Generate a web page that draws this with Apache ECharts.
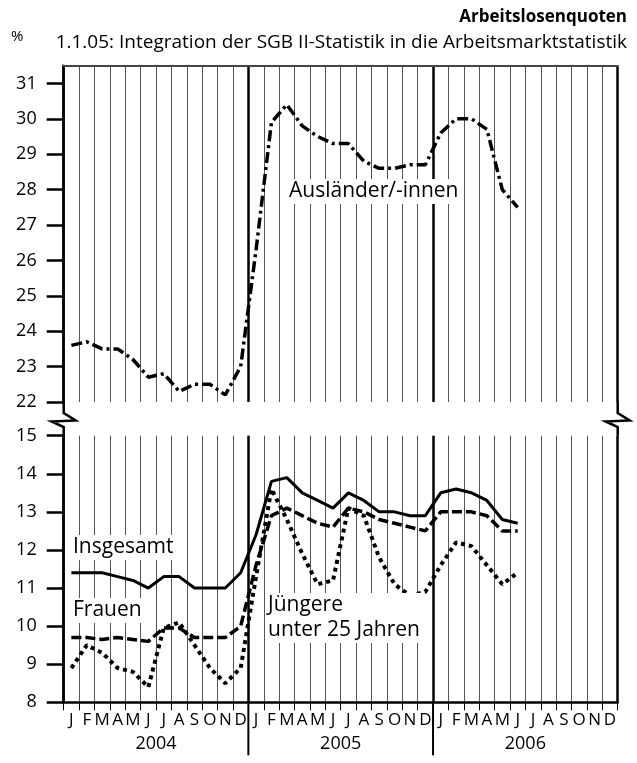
<!DOCTYPE html>
<html><head><meta charset="utf-8">
<script src="https://cdn.jsdelivr.net/npm/echarts@6/dist/echarts.min.js"></script>
<style>html,body{margin:0;padding:0;background:#fff}#c{width:637px;height:763px}</style>
</head><body><div id="c"></div>
<script>
const months = ['J','F','M','A','M','J','J','A','S','O','N','D','J','F','M','A','M','J','J','A','S','O','N','D','J','F','M','A','M','J','J','A','S','O','N','D'];
const years = ['2004','2005','2006'];
const upperTicks = [22,23,24,25,26,27,28,29,30,31];
const lowerTicks = [8,9,10,11,12,13,14,15];
const auslaender = [23.6,23.7,23.5,23.5,23.2,22.7,22.8,22.3,22.5,22.5,22.2,23.0,
  26.3,29.9,30.4,29.8,29.5,29.3,29.3,28.8,28.6,28.6,28.7,28.7,
  29.6,30.0,30.0,29.7,28.0,27.5];
const insgesamt = [11.4,11.4,11.4,11.3,11.2,11.0,11.3,11.3,11.0,11.0,11.0,11.4,
  12.4,13.8,13.9,13.5,13.3,13.1,13.5,13.3,13.0,13.0,12.9,12.9,
  13.5,13.6,13.5,13.3,12.8,12.7];
const frauen = [9.7,9.7,9.65,9.7,9.65,9.6,9.95,9.95,9.7,9.7,9.7,10.0,
  11.6,12.9,13.1,12.9,12.7,12.6,13.1,13.0,12.8,12.7,12.6,12.5,
  13.0,13.0,13.0,12.9,12.5,12.5];
const juengere = [8.9,9.5,9.3,8.9,8.8,8.4,9.95,10.1,9.5,8.9,8.5,8.9,
  11.3,13.6,12.8,11.9,11.1,11.2,13.1,12.9,11.8,11.1,10.8,10.9,
  11.6,12.2,12.1,11.6,11.1,11.4];

const FONT = 'Open Sans';
const chart = echarts.init(document.getElementById('c'), null, {renderer:'canvas'});
const gridL = 63.7, gridR = 637-617.7;
function yAxisDef(grid, min, max, ticks){
  return {gridIndex:grid,type:'value',min:min,max:max,interval:1,
    axisLine:{show:true,lineStyle:{color:'#000',width:2.5}},
    axisTick:{show:true,length:17,lineStyle:{color:'#000',width:2.5},customValues:ticks},
    axisLabel:{fontSize:18,color:'#000',margin:27,fontFamily:FONT,customValues:ticks},
    splitLine:{show:false}};
}
chart.setOption({
  animation:false,
  textStyle:{fontFamily:FONT},
  title:[
    {text:'Arbeitslosenquoten',right:5,top:4,textStyle:{fontSize:17,fontWeight:'bold',color:'#000',fontFamily:FONT}},
    {text:'1.1.05: Integration der SGB II-Statistik in die Arbeitsmarktstatistik',right:5,top:28,textStyle:{fontSize:19,fontWeight:'normal',color:'#000',fontFamily:FONT}},
    {text:'%',left:6,top:24,textStyle:{fontSize:15,fontWeight:'normal',color:'#000',fontFamily:FONT}}
  ],
  grid:[
    {left:gridL,right:gridR,top:65.7,height:336.3},
    {left:gridL,right:gridR,top:435.7,bottom:763-702.3}
  ],
  xAxis:[
    {gridIndex:0,type:'category',data:months,position:'top',boundaryGap:true,
     axisLine:{show:true,lineStyle:{color:'#444',width:2}},axisTick:{show:false},axisLabel:{show:false},
     splitLine:{show:true,interval:0,lineStyle:{color:'#555',width:1}}},
    {gridIndex:0,type:'value',min:0,max:36,interval:12,position:'top',
     axisLine:{show:false},axisTick:{show:false},axisLabel:{show:false},
     splitLine:{show:true,lineStyle:{color:'#000',width:2.5}}},
    {gridIndex:1,type:'category',data:months,position:'bottom',boundaryGap:true,
     axisLine:{show:true,lineStyle:{color:'#000',width:2.5}},
     axisTick:{show:true,interval:0,length:8,lineStyle:{color:'#000',width:1}},
     axisLabel:{interval:0,fontSize:17,color:'#000',margin:9,fontFamily:FONT},
     splitLine:{show:true,interval:0,lineStyle:{color:'#555',width:1}}},
    {gridIndex:1,type:'value',min:0,max:36,interval:12,position:'top',
     axisLine:{show:false},axisTick:{show:false},axisLabel:{show:false},
     splitLine:{show:true,lineStyle:{color:'#000',width:2.5}}},
    {gridIndex:1,type:'category',data:years,position:'bottom',boundaryGap:true,
     axisLine:{show:false},axisTick:{show:false},
     axisLabel:{interval:0,fontSize:18,color:'#000',margin:33,fontFamily:FONT},
     splitLine:{show:false}}
  ],
  yAxis:[ yAxisDef(0,22,31.5,upperTicks), yAxisDef(1,8,15,lowerTicks) ],
  series:[
    {name:'Ausländer/-innen',type:'line',xAxisIndex:0,yAxisIndex:0,data:auslaender,symbol:'none',
     lineStyle:{color:'#000',width:3.5,type:[11,4,3,4],cap:'butt'},z:5},
    {name:'Insgesamt',type:'line',xAxisIndex:2,yAxisIndex:1,data:insgesamt,symbol:'none',
     lineStyle:{color:'#000',width:3,type:'solid'},z:5},
    {name:'Frauen',type:'line',xAxisIndex:2,yAxisIndex:1,data:frauen,symbol:'none',
     lineStyle:{color:'#000',width:3.5,type:[10,4],cap:'butt'},z:5},
    {name:'Jüngere',type:'line',xAxisIndex:2,yAxisIndex:1,data:juengere,symbol:'none',
     lineStyle:{color:'#000',width:4,type:[4,4],cap:'butt'},z:5}
  ]
});

const x0 = chart.convertToPixel({xAxisIndex:3}, 0);
const x12 = chart.convertToPixel({xAxisIndex:3}, 12);
const x24 = chart.convertToPixel({xAxisIndex:3}, 24);
const x36 = chart.convertToPixel({xAxisIndex:3}, 36);
const yUpBot = chart.convertToPixel({yAxisIndex:0}, 22);
const yLoTop = chart.convertToPixel({yAxisIndex:1}, 15);
const yLoBot = chart.convertToPixel({yAxisIndex:1}, 8);
function zig(x){
  return {type:'polyline',silent:true,z:10,shape:{points:[[x,yUpBot],[x,yUpBot+11],[x+12,yUpBot+18.5],[x-12,yUpBot+19.5],[x,yUpBot+25],[x,yLoTop]]},
    style:{stroke:'#000',lineWidth:2.5,fill:null}};
}
function lbl(text,x,y){
  return {type:'text',z:20,x:x,y:y,style:{text:text,fontSize:21,fontFamily:FONT,fill:'#000',backgroundColor:'#fff',padding:[0,2],lineHeight:25}};
}
chart.setOption({graphic:[
  zig(x0), zig(x36),
  {type:'line',silent:true,z:10,shape:{x1:x12,y1:yLoBot,x2:x12,y2:yLoBot+53},style:{stroke:'#000',lineWidth:2}},
  {type:'line',silent:true,z:10,shape:{x1:x24,y1:yLoBot,x2:x24,y2:yLoBot+53},style:{stroke:'#000',lineWidth:2}},
  lbl('Ausländer/-innen',287,179),
  lbl('Insgesamt',71,535),
  lbl('Frauen',71,598),
  lbl('Jüngere\nunter 25 Jahren',266,593)
]});
</script></body></html>
